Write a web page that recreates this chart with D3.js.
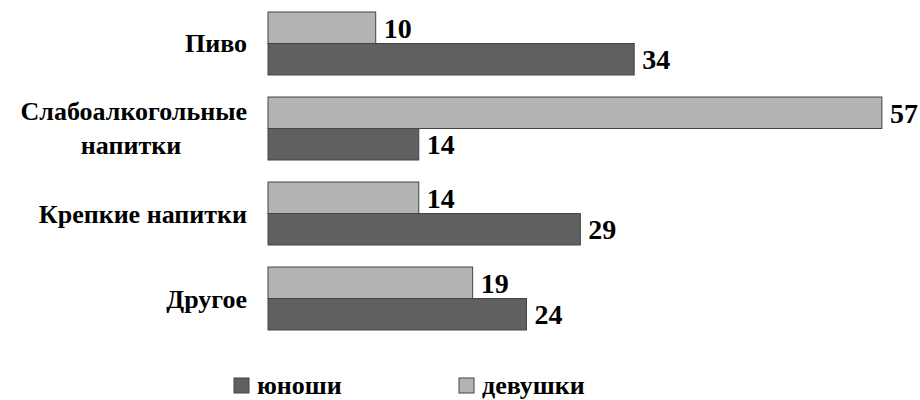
<!DOCTYPE html>
<html>
<head>
<meta charset="utf-8">
<script src="https://cdn.jsdelivr.net/npm/d3@7"></script>
</head>
<body style="margin:0">
<script>
// categories (two-line labels split by \n)
const categories = ['Пиво', 'Слабоалкогольные\nнапитки', 'Крепкие напитки', 'Другое'];
const girls = [10, 57, 14, 19];
const boys = [34, 14, 29, 24];
const seriesNames = ['девушки', 'юноши'];
const legendNames = ['юноши', 'девушки'];

const width = 920, height = 400;
const serif = '"Liberation Serif", "Times New Roman", Tinos';

const svg = d3.select('body').append('svg')
    .attr('width', width)
    .attr('height', height);

const x = d3.scaleLinear().domain([0, 60]).range([268, 268 + 60 * 10.77]);
const y = d3.scaleBand().domain(categories).range([12, 330]).paddingInner(0.259).paddingOuter(0);
const ySub = d3.scaleBand().domain(seriesNames).range([0, y.bandwidth()]);
const color = d3.scaleOrdinal().domain(seriesNames).range(['#b3b3b3', '#606060']);

const bars = [];
categories.forEach((c, i) => {
    bars.push({ cat: c, key: 'девушки', value: girls[i] });
    bars.push({ cat: c, key: 'юноши', value: boys[i] });
});

function serifText(sel, size) {
    return sel.attr('font-family', serif)
        .attr('font-weight', 'bold')
        .attr('font-size', size)
        .style('font-family', serif, 'important')
        .style('font-weight', 'bold', 'important')
        .style('font-size', size + 'px', 'important');
}

// bars
svg.selectAll('rect.bar')
    .data(bars)
    .join('rect')
    .attr('class', 'bar')
    .attr('x', x(0))
    .attr('y', d => y(d.cat) + ySub(d.key))
    .attr('width', d => x(d.value) - x(0))
    .attr('height', ySub.bandwidth())
    .style('fill', d => color(d.key))
    .style('stroke', '#444')
    .style('stroke-width', 1);

// value labels
svg.selectAll('text.val')
    .data(bars)
    .join('text')
    .attr('class', 'val')
    .attr('x', d => x(d.value) + 8)
    .attr('y', d => y(d.cat) + ySub(d.key) + ySub.bandwidth() / 2 + 10)
    .call(serifText, 28)
    .text(d => d.value);

// category labels, right aligned; second line of a two-line label centred under the first
const labelRight = 247;
const lineH = 34;
const labelLines = [];
categories.forEach(c => {
    const lines = c.split('\n');
    lines.forEach((l, i) => labelLines.push({ cat: c, text: l, i: i, n: lines.length }));
});
svg.selectAll('text.lab')
    .data(labelLines)
    .join('text')
    .attr('class', 'lab')
    .attr('x', d => d.i === 0 ? labelRight : labelRight - 116)
    .attr('text-anchor', d => d.i === 0 ? 'end' : 'middle')
    .attr('y', d => y(d.cat) + y.bandwidth() / 2 + (d.i - (d.n - 1) / 2) * lineH + 9)
    .call(serifText, 26)
    .text(d => d.text);

// legend
const legendX = d3.scalePoint().domain(legendNames).range([234, 459]);
svg.selectAll('rect.leg')
    .data(legendNames)
    .join('rect')
    .attr('class', 'leg')
    .attr('x', d => legendX(d))
    .attr('y', 378)
    .attr('width', 15)
    .attr('height', 15)
    .style('fill', d => color(d))
    .style('stroke', '#444');
svg.selectAll('text.leg')
    .data(legendNames)
    .join('text')
    .attr('class', 'leg')
    .attr('x', d => legendX(d) + 23)
    .attr('y', 394)
    .call(serifText, 26)
    .text(d => d);
</script>
</body>
</html>
